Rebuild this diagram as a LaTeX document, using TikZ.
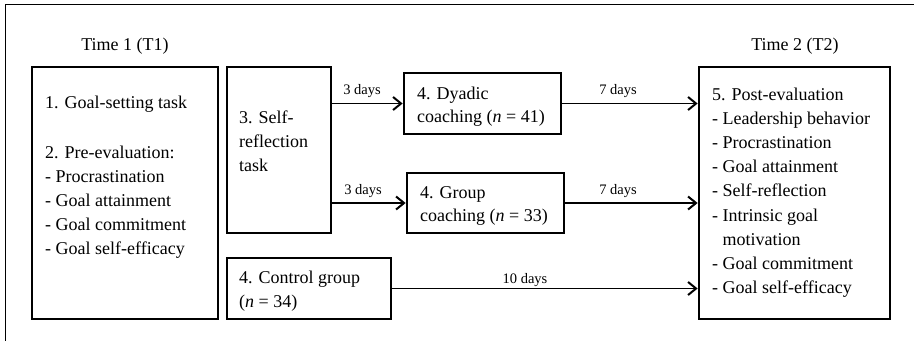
\documentclass[tikz,border=0pt]{standalone}
\usepackage{fontspec}
\setmainfont{Liberation Serif}
\usetikzlibrary{arrows.meta}
\tikzset{
  box/.style={draw, line width=2.7pt, inner sep=0pt},
  txt/.style={inner sep=0pt, anchor=base west, font=\fontsize{18}{22}\selectfont},
  ttl/.style={inner sep=0pt, anchor=base, font=\fontsize{18}{22}\selectfont},
  lbl/.style={inner sep=0pt, anchor=base, font=\fontsize{14.5}{17}\selectfont},
  arr/.style={line width=1.8pt, -{Straight Barb[length=8pt,width=13pt,line width=2pt]}}
}
\begin{document}
\begin{tikzpicture}[x=1pt,y=-1pt]
\useasboundingbox (0,0) rectangle (914,341);
\draw[line width=1pt] (914,4.5) -- (5.5,4.5) -- (5.5,341);

% titles
\node[ttl] (t1) at (125,50) {Time 1 (T1)};
\node[ttl] (t2) at (795,50) {Time 2 (T2)};

% boxes
\node[box, minimum width=186pt, minimum height=252pt] (b1) at (125,193) {};
\node[box, minimum width=104pt, minimum height=166pt] (b3) at (279,150) {};
\node[box, minimum width=157pt, minimum height=61pt] (dy) at (482.5,103.5) {};
\node[box, minimum width=157pt, minimum height=60pt] (gr) at (485.5,203) {};
\node[box, minimum width=164pt, minimum height=61pt] (ct) at (309,288.5) {};
\node[box, minimum width=191pt, minimum height=252pt] (b5) at (794.5,193) {};

% box 1 text
\node[txt] (b1a) at (45,108) {1. Goal-setting task};
\node[txt] (b1b) at (45,158) {2. Pre-evaluation:};
\node[txt] (b1c) at (45,182) {- Procrastination};
\node[txt] (b1d) at (45,206) {- Goal attainment};
\node[txt] (b1e) at (45,230) {- Goal commitment};
\node[txt] (b1f) at (45,254) {- Goal self-efficacy};

% box 3 text
\node[txt] (b3a) at (239,123) {3. Self-};
\node[txt] (b3b) at (239,147) {reflection};
\node[txt] (b3c) at (239,171) {task};

% dyadic
\node[txt] (dya) at (417,99) {4. Dyadic};
\node[txt] (dyb) at (417,122.5) {coaching (\textit{n} = 41)};

% group
\node[txt] (gra) at (420,198) {4. Group};
\node[txt] (grb) at (420,221.5) {coaching (\textit{n} = 33)};

% control
\node[txt] (cta) at (239,283) {4. Control group};
\node[txt] (ctb) at (239,307) {(\textit{n} = 34)};

% box 5 text
\node[txt] (b5a) at (712,100) {5. Post-evaluation};
\node[txt] (b5b) at (712,124.2) {- Leadership behavior};
\node[txt] (b5c) at (712,148.4) {- Procrastination};
\node[txt] (b5d) at (712,172.6) {- Goal attainment};
\node[txt] (b5e) at (712,196.8) {- Self-reflection};
\node[txt] (b5f) at (712,221) {- Intrinsic goal};
\node[txt] (b5g) at (712,245.2) {\phantom{- }motivation};
\node[txt] (b5h) at (712,269.4) {- Goal commitment};
\node[txt] (b5i) at (712,293.6) {- Goal self-efficacy};

% arrows
\draw[arr] (b3.east |- dy.west) -- (dy.west);
\draw[arr] (b3.east |- gr.west) -- (gr.west);
\draw[arr] (dy.east) -- (dy.east -| b5.west);
\draw[arr] (gr.east) -- (gr.east -| b5.west);
\draw[arr] (ct.east) -- (ct.east -| b5.west);

% labels
\node[lbl] (l1) at (362,94.5) {3 days};
\node[lbl] (l2) at (363,194.5) {3 days};
\node[lbl] (l3) at (618,94.5) {7 days};
\node[lbl] (l4) at (618,194.5) {7 days};
\node[lbl] (l5) at (525,283) {10 days};
\end{tikzpicture}
\end{document}
